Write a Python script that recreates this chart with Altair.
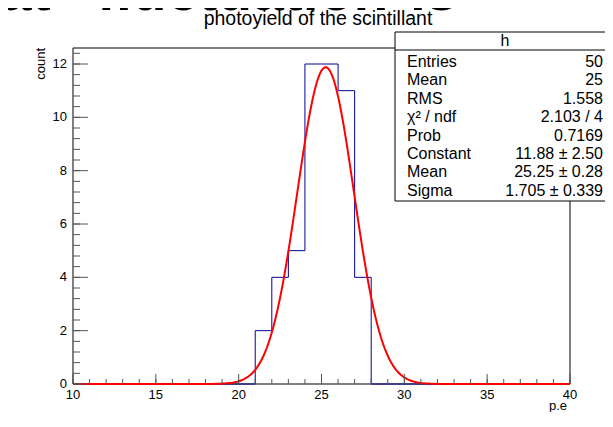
import altair as alt
import pandas as pd

# ---------------- data ----------------
bin_left = list(range(10, 40))                      # 30 bins of width 1, 10..40
counts = [0] * 11 + [2, 4, 5, 12, 12, 11, 4] + [0] * 12

fit_constant = 11.88
fit_mean = 25.25
fit_sigma = 1.705

x_tick_major = [10, 15, 20, 25, 30, 35, 40]
x_tick_minor = list(range(10, 41))
y_tick_major = [0, 2, 4, 6, 8, 10, 12]
y_tick_minor = [round(0.4 * k, 1) for k in range(0, 32)]

stats_labels = ["Entries", "Mean", "RMS", "χ² / ndf", "Prob", "Constant", "Mean", "Sigma"]
stats_values = ["50", "25", "1.558", "2.103 / 4", "0.7169",
                "11.88 ± 2.50", "25.25 ± 0.28", "1.705 ± 0.339"]

title_text = "photoyield of the scintillant"
big_words = ["at", "fluctuation", "is"]

# ---------------- layout ----------------
W, H = 497, 336
FONT = "Liberation Sans"

hist_df = pd.DataFrame({"edge": bin_left + [40], "count": counts + [0]})
xs = alt.Scale(domain=[10, 40], nice=False, zero=False)
ys = alt.Scale(domain=[0, 12.6], nice=False, zero=False)

one = alt.Data(values=[{}])

frame = alt.Chart(one).mark_rect(fillOpacity=0, stroke="black", strokeWidth=1).encode(
    x=alt.value(0), x2=alt.value(W), y=alt.value(0), y2=alt.value(H))

hist = alt.Chart(hist_df).mark_line(
    interpolate="step-after", color="#000099", strokeWidth=1).encode(
    x=alt.X("edge:Q", scale=xs, axis=None),
    y=alt.Y("count:Q", scale=ys, axis=None))

fit = alt.Chart(alt.sequence(10, 40.001, 0.1, as_="xv")).transform_calculate(
    yv=f"{fit_constant}*exp(-0.5*pow((datum.xv-{fit_mean})/{fit_sigma},2))"
).mark_line(color="#ff0000", strokeWidth=2).encode(
    x=alt.X("xv:Q", scale=xs, axis=None),
    y=alt.Y("yv:Q", scale=ys, axis=None))

TICK = "#555"
ymaj = alt.Chart(pd.DataFrame({"v": y_tick_major})).mark_rule(color=TICK, strokeWidth=1).encode(
    y=alt.Y("v:Q", scale=ys, axis=None), x=alt.value(0), x2=alt.value(15))
ymin = alt.Chart(pd.DataFrame({"v": y_tick_minor})).mark_rule(color=TICK, strokeWidth=1).encode(
    y=alt.Y("v:Q", scale=ys, axis=None), x=alt.value(0), x2=alt.value(7))
xmaj = alt.Chart(pd.DataFrame({"v": x_tick_major})).mark_rule(color=TICK, strokeWidth=1).encode(
    x=alt.X("v:Q", scale=xs, axis=None), y=alt.value(H), y2=alt.value(H - 10))
xmin = alt.Chart(pd.DataFrame({"v": x_tick_minor})).mark_rule(color=TICK, strokeWidth=1).encode(
    x=alt.X("v:Q", scale=xs, axis=None), y=alt.value(H), y2=alt.value(H - 5))

# tick labels
xlab = alt.Chart(pd.DataFrame({"v": x_tick_major})).mark_text(
    font=FONT, fontSize=13, baseline="middle", align="center").encode(
    x=alt.X("v:Q", scale=xs, axis=None), y=alt.value(H + 11), text="v:Q")
ylab = alt.Chart(pd.DataFrame({"v": y_tick_major})).mark_text(
    font=FONT, fontSize=13, baseline="middle", align="right").encode(
    y=alt.Y("v:Q", scale=ys, axis=None), x=alt.value(-6), text="v:Q")

# stats box
box = alt.Chart(one).mark_rect(fill="white", stroke="black", strokeWidth=1).encode(
    x=alt.value(322), x2=alt.value(600), y=alt.value(-16), y2=alt.value(153))
box_line = alt.Chart(one).mark_rule(color="black", strokeWidth=1).encode(
    x=alt.value(322), x2=alt.value(600), y=alt.value(2))
box_head = alt.Chart(one).mark_text(font=FONT, fontSize=16, baseline="middle").encode(
    x=alt.value(432), y=alt.value(-7), text=alt.value("h"))

stats_df = pd.DataFrame({"label": stats_labels, "value": stats_values,
                         "i": list(range(len(stats_labels)))})
stat_base = alt.Chart(stats_df).transform_calculate(py="14 + datum.i*18.4")
stat_lab = stat_base.mark_text(font=FONT, fontSize=16, align="left", baseline="middle").encode(
    x=alt.value(334), y=alt.Y("py:Q", scale=None), text="label:N")
stat_val = stat_base.mark_text(font=FONT, fontSize=16, align="right", baseline="middle").encode(
    x=alt.value(530), y=alt.Y("py:Q", scale=None), text="value:N")

# texts
title = alt.Chart(one).mark_text(font=FONT, fontSize=19.5, baseline="middle").encode(
    x=alt.value(245), y=alt.value(-29), text=alt.value(title_text))
ytitle = alt.Chart(one).mark_text(font=FONT, fontSize=13, angle=270, align="right",
                                  baseline="middle").encode(
    x=alt.value(-32), y=alt.value(0), text=alt.value("count"))
xtitle = alt.Chart(one).mark_text(font=FONT, fontSize=13, align="right",
                                  baseline="middle").encode(
    x=alt.value(W - 3), y=alt.value(358), text=alt.value("p.e"))

big_df = pd.DataFrame({"w": big_words, "k": [0, 1, 2]})
big = alt.Chart(big_df).transform_calculate(
    px="datum.k == 0 ? -73 : (datum.k == 1 ? 24 : 337)"
).mark_text(font=FONT, fontSize=57, fontWeight="bold", align="left",
            baseline="alphabetic").encode(
    x=alt.X("px:Q", scale=None), y=alt.value(-38), text="w:N")

chart = alt.layer(frame, hist, fit, ymaj, ymin, xmaj, xmin, xlab, ylab, box, box_line,
                  box_head, stat_lab, stat_val, title, ytitle, xtitle, big).properties(
    width=W, height=H,
    autosize=alt.AutoSizeParams(type="none"),
    padding={"left": 65, "top": 40, "right": 35, "bottom": 28},
).configure_view(stroke=None)

chart.save("out.html", embed_options={"renderer": "svg", "actions": False})
